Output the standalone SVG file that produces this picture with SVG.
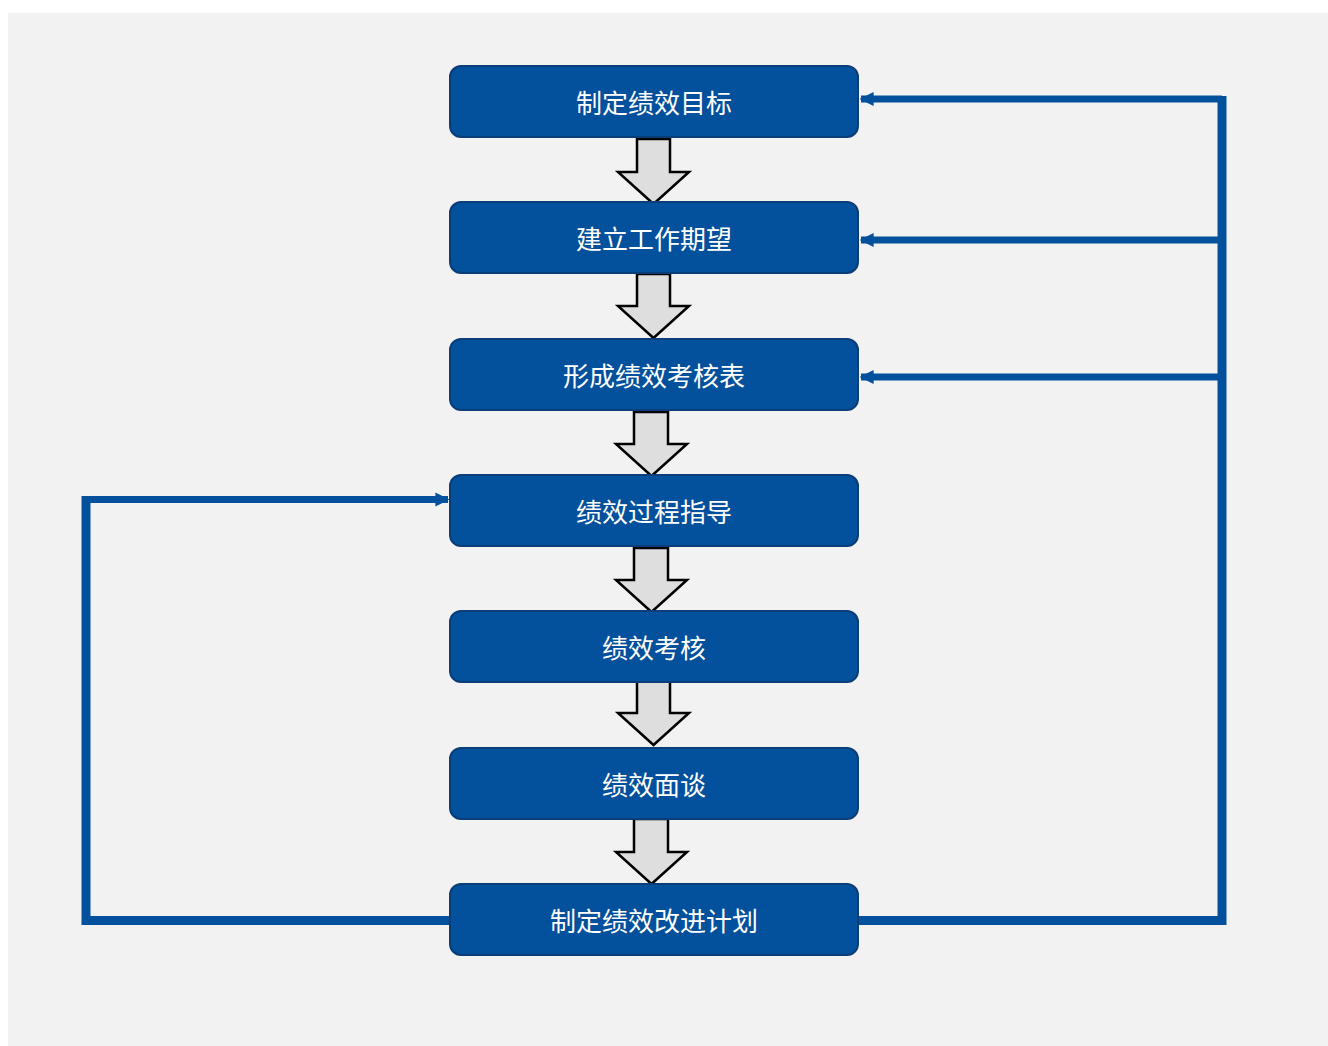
<svg xmlns="http://www.w3.org/2000/svg" width="1328" height="1046" viewBox="0 0 1328 1046">
<defs>
<style>
.box{fill:#03509C;stroke:#0B3D78;stroke-width:2}
.lbl{fill:#ffffff;font-family:"Noto Sans CJK SC","Noto Sans",sans-serif;font-size:26px;text-anchor:middle;dominant-baseline:central}
.flow{fill:#DEDEDE;stroke:#000000;stroke-width:2.5;stroke-linejoin:miter}
.fb{fill:none;stroke:#03509C;stroke-linejoin:miter}
</style>
<marker id="ah" viewBox="0 0 10 10" refX="9" refY="5" markerWidth="2" markerHeight="2.2" orient="auto" markerUnits="strokeWidth">
<path d="M0,0 L10,5 L0,10 z" fill="#03509C"/>
</marker>
</defs>
<rect x="0" y="0" width="1328" height="1046" fill="#ffffff"/>
<rect x="8" y="13" width="1320" height="1033" fill="#F2F2F2"/>

<g id="connectors">
<path class="flow" d="M637,139 H670 V172 H689 L653.5,204 L618,172 H637 Z"/>
<path class="flow" d="M637,274 H670 V306 H689 L653.5,338 L618,306 H637 Z"/>
<path class="flow" d="M634,412 H668 V444 H687 L651.5,476 L616,444 H634 Z"/>
<path class="flow" d="M634,548 H668 V580 H687 L651.5,612 L616,580 H634 Z"/>
<path class="flow" d="M637,680 H670 V713 H689 L653.5,745 L618,713 H637 Z"/>
<path class="flow" d="M634,819 H668 V852 H687 L651.5,884 L616,852 H634 Z"/>

<path class="fb" stroke-width="9" d="M858,920.5 H1222 V96"/>
<path class="fb" stroke-width="7" d="M1222,99 H861" marker-end="url(#ah)"/>
<path class="fb" stroke-width="7" d="M1218,240 H861" marker-end="url(#ah)"/>
<path class="fb" stroke-width="7" d="M1218,377 H861" marker-end="url(#ah)"/>
<path class="fb" stroke-width="9" d="M450,920.5 H86 V496"/>
<path class="fb" stroke-width="7" d="M82,499.5 H448" marker-end="url(#ah)"/>
</g>

<g id="n1"><rect class="box" x="450" y="66" width="408" height="71" rx="11"/><text class="lbl" x="654" y="101">制定绩效目标</text></g>
<g id="n2"><rect class="box" x="450" y="202" width="408" height="71" rx="11"/><text class="lbl" x="654" y="237">建立工作期望</text></g>
<g id="n3"><rect class="box" x="450" y="339" width="408" height="71" rx="11"/><text class="lbl" x="654" y="374">形成绩效考核表</text></g>
<g id="n4"><rect class="box" x="450" y="475" width="408" height="71" rx="11"/><text class="lbl" x="654" y="510">绩效过程指导</text></g>
<g id="n5"><rect class="box" x="450" y="611" width="408" height="71" rx="11"/><text class="lbl" x="654" y="646">绩效考核</text></g>
<g id="n6"><rect class="box" x="450" y="748" width="408" height="71" rx="11"/><text class="lbl" x="654" y="783">绩效面谈</text></g>
<g id="n7"><rect class="box" x="450" y="884" width="408" height="71" rx="11"/><text class="lbl" x="654" y="919">制定绩效改进计划</text></g>
</svg>
